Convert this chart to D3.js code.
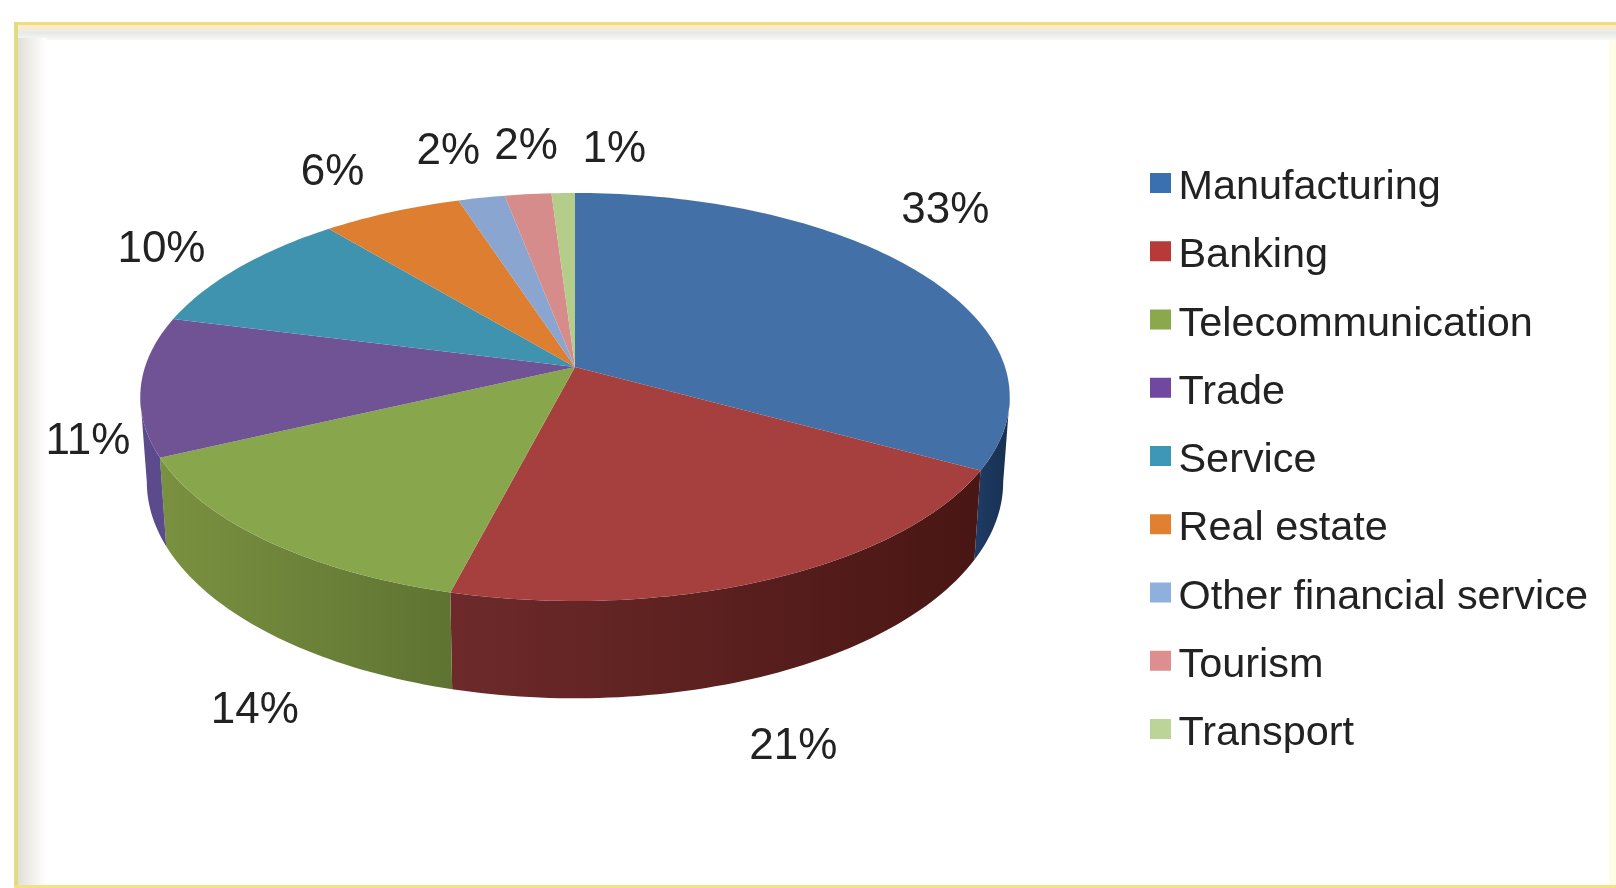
<!DOCTYPE html>
<html>
<head>
<meta charset="utf-8">
<script src="https://cdn.jsdelivr.net/npm/d3@7"></script>
<style>
  html, body { margin: 0; padding: 0; background: #fff; }
  svg { display: block; filter: blur(0.6px); }
  text { font-family: "Liberation Sans", Arial, sans-serif; fill: #222; }
</style>
</head>
<body>
<svg id="chart" width="1616" height="888"></svg>
<script>
var categories = ["Manufacturing", "Banking", "Telecommunication", "Trade", "Service", "Real estate", "Other financial service", "Tourism", "Transport"];
var shares = [33, 21, 14, 11, 10, 6, 2, 2, 1];
var topColors = ["#4470a8", "#a5403e", "#88a64c", "#6f5395", "#3f93ae", "#de7e30", "#8aa5cf", "#d58c8a", "#b5cd8b"];
var keyColors = ["#3a70b0", "#b83a38", "#8aa84c", "#7048a0", "#3d97b5", "#e08030", "#8fb0dc", "#dc8f8e", "#bcd498"];
var wallLeftColors = ["#1f3c66", "#6e2a2a", "#7a9140", "#5b4a8c", "#2a6478", "#98561f", "#5f7391", "#95605f", "#7e8f60"];
var wallRightColors = ["#17304f", "#481614", "#5f7332", "#5b4a8c", "#2a6478", "#98561f", "#5f7391", "#95605f", "#7e8f60"];
// label offset from the rim point at the middle of each slice
var labelOffsets = [[26, -64], [21, 165], [-11, 168], [-53, 53], [-77, -21], [-59, -42], [-33, -49], [-2, -50], [51, -46]];

var svg = d3.select("#chart");

// tilted disc, seen in perspective, so the hub sits above the middle of the ellipse
var hubX = 575, hubY = 367;
var discW = 430, discH = 199.6;
var tilt = 0.147;
var depth = 83;
var floorScale = 0.985;

function project(angle, r, lower) {
  var X = r * Math.sin(angle), Y = r * Math.cos(angle);
  var w = 1 + tilt * Y;
  var px = discW * X / w, py = -discH * Y / w;
  if (lower) return [hubX + px * floorScale, hubY + py + depth / w];
  return [hubX + px, hubY + py];
}

function arcPoints(a0, a1, lower) {
  var n = Math.max(2, Math.ceil(Math.abs(a1 - a0) / 0.02));
  return d3.range(n + 1).map(function(i) {
    return project(a0 + (a1 - a0) * i / n, 1, lower);
  });
}

var slices = d3.pie().sort(null).startAngle(0).endAngle(2 * Math.PI)(shares);
var line = d3.line();

// frame: soft inner bands, then the gold edge on three sides
var defs = svg.append("defs");
var leftBand = defs.append("linearGradient").attr("id", "leftBand");
leftBand.append("stop").attr("offset", "0%").attr("stop-color", "#e2e0da");
leftBand.append("stop").attr("offset", "100%").attr("stop-color", "#ffffff");
var topBand = defs.append("linearGradient").attr("id", "topBand").attr("x2", 0).attr("y2", 1);
topBand.append("stop").attr("offset", "0%").attr("stop-color", "#fdeccf");
topBand.append("stop").attr("offset", "50%").attr("stop-color", "#e6eae8");
topBand.append("stop").attr("offset", "100%").attr("stop-color", "#f6fbf2");
svg.append("rect").attr("x", 18).attr("y", 26).attr("width", 1598).attr("height", 14).attr("fill", "url(#topBand)");
svg.append("rect").attr("x", 18).attr("y", 38).attr("width", 28).attr("height", 847).attr("fill", "url(#leftBand)");
svg.append("rect").attr("x", 1609).attr("y", 40).attr("width", 7).attr("height", 845).attr("fill", "#fffce8");
svg.append("rect").attr("x", 14).attr("y", 22).attr("width", 1602).attr("height", 3.5).attr("fill", "#f2dc80");
svg.append("rect").attr("x", 14).attr("y", 22).attr("width", 4).attr("height", 866).attr("fill", "#e3db84");
svg.append("rect").attr("x", 14).attr("y", 885).attr("width", 1602).attr("height", 3).attr("fill", "#f5e08a");

// walls, only the part that faces the viewer
var edgeAngle = Math.acos(-tilt);
var walls = svg.append("g");
slices.forEach(function(d, i) {
  var a0 = Math.max(d.startAngle, edgeAngle);
  var a1 = Math.min(d.endAngle, 2 * Math.PI - edgeAngle);
  if (a1 <= a0) return;
  var id = "wall" + i;
  var grad = defs.append("linearGradient").attr("id", id);
  grad.append("stop").attr("offset", "0%").attr("stop-color", wallLeftColors[i]);
  grad.append("stop").attr("offset", "100%").attr("stop-color", wallRightColors[i]);
  var pts = arcPoints(a0, a1, false).concat(arcPoints(a1, a0, true));
  walls.append("path").attr("d", line(pts) + "Z").attr("fill", "url(#" + id + ")");
});

// top face
svg.append("g").selectAll("path").data(slices).enter()
  .append("path")
  .attr("d", function(d) {
    return line([[hubX, hubY]].concat(arcPoints(d.startAngle, d.endAngle, false))) + "Z";
  })
  .attr("fill", function(d, i) { return topColors[i]; });

// percent labels
svg.append("g").selectAll("text").data(slices).enter()
  .append("text")
  .attr("text-anchor", "middle")
  .attr("font-size", 44)
  .attr("x", function(d, i) {
    return project((d.startAngle + d.endAngle) / 2, 1, false)[0] + labelOffsets[i][0];
  })
  .attr("y", function(d, i) {
    return project((d.startAngle + d.endAngle) / 2, 1, false)[1] + labelOffsets[i][1] + 15;
  })
  .text(function(d) { return d.data + "%"; });

// legend
var legendY = d3.scalePoint().domain(categories).range([199, 745]);
var legend = svg.append("g").selectAll("g").data(categories).enter()
  .append("g")
  .attr("transform", function(d) { return "translate(1150," + legendY(d) + ")"; });
legend.append("rect").attr("x", 0).attr("y", -26).attr("width", 21).attr("height", 20)
  .attr("fill", function(d, i) { return keyColors[i]; });
legend.append("text").attr("x", 28.5).attr("font-size", 41.4).text(function(d) { return d; });
</script>
</body>
</html>
